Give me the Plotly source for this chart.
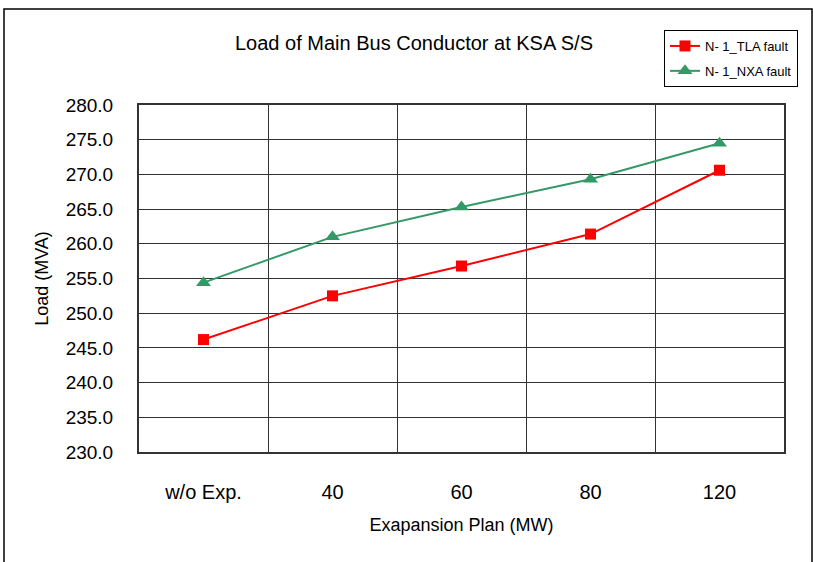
import plotly.graph_objects as go

categories = ["w/o Exp.", "40", "60", "80", "120"]
tla_values = [246.2, 252.5, 256.8, 261.4, 270.6]
nxa_values = [254.4, 261.0, 265.3, 269.3, 274.5]
y_ticks = [230, 235, 240, 245, 250, 255, 260, 265, 270, 275, 280]

FONT = "Arial, Liberation Sans, sans-serif"

fig = go.Figure()
fig.add_trace(go.Scatter(
    x=categories, y=tla_values, name="N- 1_TLA fault", mode="lines+markers",
    legendgroup="tla",
    line=dict(color="#FF0000", width=2),
    marker=dict(symbol="square", size=11, color="#FF0000"),
))
fig.add_trace(go.Scatter(
    x=categories, y=nxa_values, name="N- 1_NXA fault", mode="lines+markers",
    legendgroup="nxa",
    line=dict(color="#339966", width=2),
    marker=dict(symbol="triangle-up", size=13, color="#339966"),
))

W, H = 813, 562
L, R, T, B = 139, 813 - 784, 105, 562 - 452
pw, ph = W - L - R, H - T - B

def px_x(p):
    return (p - L) / pw

def px_y(p):
    return (H - B - p) / ph

fig.update_layout(
    width=W, height=H,
    margin=dict(l=L, r=R, t=T, b=B),
    paper_bgcolor="white", plot_bgcolor="white",
    font=dict(family=FONT, color="black"),
    showlegend=True,
    legend=dict(
        x=px_x(664), y=px_y(30), xanchor="left", yanchor="top",
        bordercolor="black", borderwidth=1, bgcolor="white",
        font=dict(size=13, family=FONT),
        traceorder="grouped", tracegroupgap=5,
    ),
    xaxis=dict(
        type="category", tickson="boundaries",
        showgrid=True, gridcolor="#333333", gridwidth=1,
        showline=True, linecolor="#333333", linewidth=2, mirror=True,
        ticks="", tickfont=dict(size=20, family=FONT),
        ticklabelstandoff=21,
        title=dict(text="Exapansion Plan (MW)", font=dict(size=18, family=FONT), standoff=16),
        range=[-0.5, 4.5],
    ),
    yaxis=dict(
        range=[230, 280], tickvals=y_ticks,
        ticktext=[f"{v:.1f}" for v in y_ticks],
        showgrid=True, gridcolor="#333333", gridwidth=1,
        showline=True, linecolor="#333333", linewidth=2, mirror=True,
        ticks="inside", ticklen=4, tickcolor="#333333",
        tickfont=dict(size=19, family=FONT),
        ticklabelstandoff=20,
        zeroline=False,
        title=dict(text="Load (MVA)", font=dict(size=18, family=FONT), standoff=12),
    ),
    shapes=[dict(
        type="rect", xref="paper", yref="paper",
        x0=px_x(4), x1=px_x(812), y0=px_y(566), y1=px_y(9),
        line=dict(color="black", width=1.5), fillcolor="rgba(0,0,0,0)", layer="below",
    )],
    annotations=[dict(
        text="Load of Main Bus Conductor at KSA S/S", xref="paper", yref="paper",
        x=px_x(414), y=px_y(43), xanchor="center", yanchor="middle",
        showarrow=False, font=dict(size=20, family=FONT),
    )],
)

fig.write_html(
    "out.html",
    config={"displayModeBar": False},
    post_script="document.body.style.margin='0';document.body.style.overflow='hidden';",
)
